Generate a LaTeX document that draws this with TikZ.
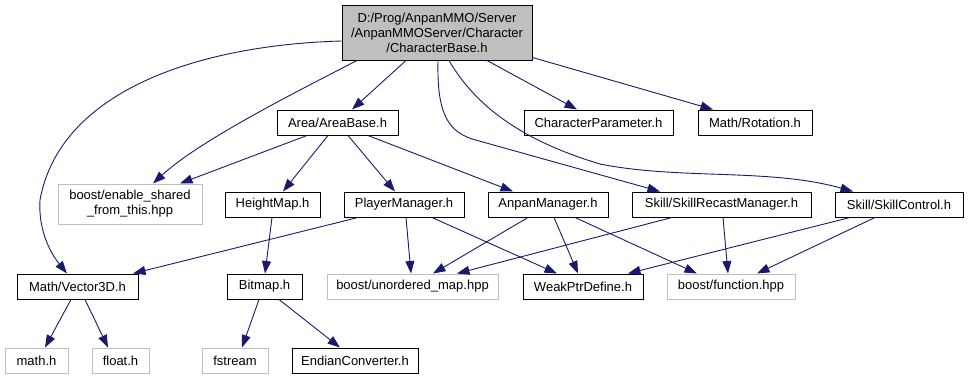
\documentclass[tikz,border=0pt]{standalone}
\usepackage{fontspec}
\setmainfont{Liberation Sans}
\usetikzlibrary{calc,arrows.meta}
\definecolor{edgeblue}{HTML}{191970}
\definecolor{extgray}{HTML}{BFBFBF}
\definecolor{fillgray}{HTML}{BFBFBF}
\begin{document}
\begin{tikzpicture}[x=1pt,y=-1pt,
  every node/.style={font=\fontsize{13}{15}\selectfont, inner sep=0pt, align=center},
  hdr/.style={draw=black, line width=1pt, fill=white, minimum height=25pt},
  ext/.style={draw=extgray, line width=1pt, fill=white, minimum height=25pt},
  cur/.style={draw=black, line width=1pt, fill=fillgray},
  dep/.style={draw=edgeblue, line width=0.9pt, -{Triangle[length=12.5pt,width=9pt]}}]
\useasboundingbox (0,0) rectangle (969,380);

% file being documented
\node[cur, minimum width=190pt, minimum height=55pt] (top) at (437,32.5)
  {D:/Prog/AnpanMMO/Server\\/AnpanMMOServer/Character\\/CharacterBase.h};

% second row
\node[hdr, minimum width=121pt] (area)   at (337.5,122.5) {Area/AreaBase.h};
\node[hdr, minimum width=149pt] (cparam) at (598.5,122.5) {CharacterParameter.h};
\node[hdr, minimum width=114pt] (rot)    at (755,122.5)   {Math/Rotation.h};

% third row
\node[ext, minimum width=144pt, minimum height=40pt] (esft) at (130,204)
  {boost/enable\_shared\\\_from\_this.hpp};
\node[hdr, minimum width=95pt]  (hmap) at (272.5,204.5) {HeightMap.h};
\node[hdr, minimum width=120pt] (pmgr) at (404,204.5)   {PlayerManager.h};
\node[hdr, minimum width=120pt] (amgr) at (548,204.5)   {AnpanManager.h};
\node[hdr, minimum width=179pt] (srm)  at (721.5,204.5) {Skill/SkillRecastManager.h};
\node[hdr, minimum width=128pt] (sctl) at (899,204.5)   {Skill/SkillControl.h};

% fourth row
\node[hdr, minimum width=121pt] (vec)  at (77.5,286.5)  {Math/Vector3D.h};
\node[hdr, minimum width=75pt]  (bmp)  at (264.5,286.5) {Bitmap.h};
\node[ext, minimum width=171pt] (umap) at (412.5,286.5) {boost/unordered\_map.hpp};
\node[hdr, minimum width=120pt] (weak) at (583,286.5)   {WeakPtrDefine.h};
\node[ext, minimum width=128pt] (func) at (731,286.5)   {boost/function.hpp};

% bottom row
\node[ext, minimum width=63pt]  (math)    at (36.5,360.5)  {math.h};
\node[ext, minimum width=57pt]  (float)   at (120.5,360.5) {float.h};
\node[ext, minimum width=66pt]  (fstream) at (235,360.5)   {fstream};
\node[hdr, minimum width=126pt] (endian)  at (355,360.5)   {EndianConverter.h};

% includes of CharacterBase.h
\draw[dep] ($(top.west)+(0,8.5)$) .. controls (200,45) and (60,90) .. (40,200)
  .. controls (38,232) and (52,255) .. ($(vec.north)+(-10.5,0)$);
\draw[dep] ($(top.south)+(-80,0)$) .. controls (300,90) and (200,140) .. ($(esft.north)+(23,0)$);
\draw[dep] ($(top.south)+(-31,0)$) -- ($(area.north)+(14.5,0)$);
\draw[dep] ($(top.south)+(1,0)$) .. controls (437,108) and (445,130) .. (472,139)
  -- ($(srm.north)+(-61.5,0)$);
\draw[dep] ($(top.south)+(12,0)$) .. controls (475,105) and (520,140) .. (600,164)
  .. controls (680,180) and (770,168) .. ($(sctl.north)+(-46,0)$);
\draw[dep] ($(top.south)+(50,0)$) -- ($(cparam.north)+(-21.5,0)$);
\draw[dep] ($(top.south east)+(0,-3)$) -- ($(rot.north)+(-42,0)$);

% includes of AreaBase.h
\draw[dep] ($(area.south)+(-30.5,0)$) -- ($(esft.north)+(50,0)$);
\draw[dep] ($(area.south)+(-9.5,0)$) -- ($(hmap.north)+(10.5,0)$);
\draw[dep] ($(area.south)+(10.5,0)$) -- ($(pmgr.north)+(-9,0)$);
\draw[dep] ($(area.south)+(30.5,0)$) -- ($(amgr.north)+(-35,0)$);

% third row includes
\draw[dep] ($(hmap.south)+(-0.5,0)$) -- ($(bmp.north)+(0.5,0)$);
\draw[dep] ($(pmgr.south)+(-46,0)$) -- ($(vec.north)+(55.5,0)$);
\draw[dep] ($(pmgr.south)+(2,0)$) -- ($(umap.north)+(-1.5,0)$);
\draw[dep] ($(pmgr.south)+(28,0)$) -- ($(weak.north)+(-26,0)$);
\draw[dep] ($(amgr.south)+(-20,0)$) -- ($(umap.north)+(20.5,0)$);
\draw[dep] ($(amgr.south)+(6,0)$) -- ($(weak.north)+(-5,0)$);
\draw[dep] ($(amgr.south)+(27,0)$) -- ($(func.north)+(-34,0)$);
\draw[dep] ($(srm.south)+(-49.5,0)$) -- ($(umap.north)+(44.5,0)$);
\draw[dep] ($(srm.south)+(1.5,0)$) -- ($(func.north)+(-3,0)$);
\draw[dep] ($(sctl.south)+(-49,0)$) -- ($(weak.north)+(45,0)$);
\draw[dep] ($(sctl.south)+(-24,0)$) -- ($(func.north)+(26,0)$);

% fourth row includes
\draw[dep] ($(vec.south)+(-6.5,0)$) -- ($(math.north)+(8.5,0)$);
\draw[dep] ($(vec.south)+(7.5,0)$) -- ($(float.north)+(-12.5,0)$);
\draw[dep] ($(bmp.south)+(-5.5,0)$) -- ($(fstream.north)+(7,0)$);
\draw[dep] ($(bmp.south)+(14.5,0)$) -- ($(endian.north)+(-15,0)$);
\end{tikzpicture}
\end{document}
